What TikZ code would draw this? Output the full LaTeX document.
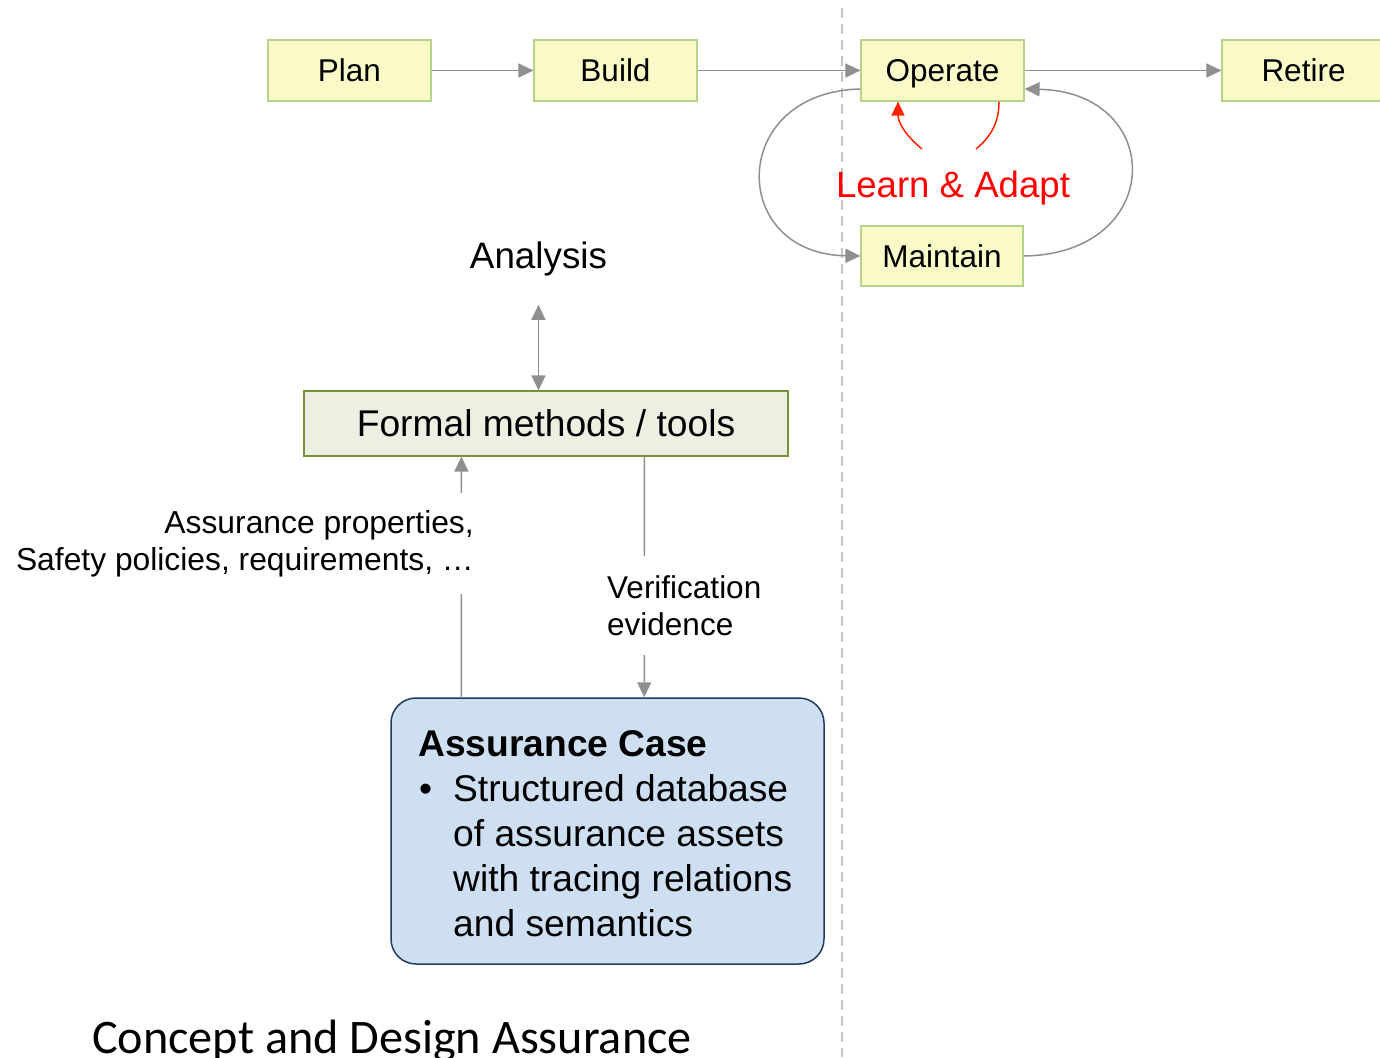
\documentclass[tikz,border=0pt]{standalone}
\usepackage{fontspec}
\setmainfont{Liberation Sans}
\newfontfamily\calib{Carlito}
\usetikzlibrary{arrows.meta,calc}
\definecolor{boxfill}{HTML}{FAFAC8}
\definecolor{boxline}{HTML}{B7D38A}
\definecolor{fmfill}{HTML}{ECEFE1}
\definecolor{fmline}{HTML}{76923C}
\definecolor{acfill}{HTML}{CFDFF2}
\definecolor{acline}{HTML}{1F3A5F}
\definecolor{conn}{HTML}{8F8F8F}
\definecolor{dashc}{HTML}{C4C4C4}
\definecolor{learnred}{HTML}{FF0000}
\definecolor{redarr}{HTML}{FF2200}
\tikzset{
  phase/.style={draw=boxline, fill=boxfill, line width=1.2pt, minimum width=163pt, minimum height=61pt, inner sep=0pt,
    font=\fontsize{31.5}{37}\selectfont, text height=22.6pt, text depth=0pt},
  tip/.style={-{Triangle[length=15pt,width=14pt]}},
  conarrow/.style={draw=conn, line width=1.5pt, tip},
  conline/.style={draw=conn, line width=1.5pt},
  redarrow/.style={draw=redarr, line width=1.5pt},
  lbl/.style={font=\fontsize{31.5}{37.5}\selectfont, inner xsep=2pt, fill=white},
}
\begin{document}
\begin{tikzpicture}[x=1pt,y=-1pt]
\useasboundingbox (0,0) rectangle (1380,1057);
% separator
\draw[dashc, line width=1.5pt, dash pattern=on 10pt off 6pt] (842,8) -- (842,1057);

% life-cycle boxes
\node[phase] (plan) at (349.5,70.5) {Plan};
\node[phase] (build) at (615.5,70.5) {Build};
\node[phase] (operate) at (942.5,70.5) {Operate};
\node[phase] (retire) at (1303.5,70.5) {Retire};
\node[phase, minimum width=162pt, minimum height=60pt] (maintain) at (942,256) {Maintain};

\draw[conarrow] (plan.east) -- (build.west);
\draw[conarrow] (build.east) -- (operate.west);
\draw[conarrow] (operate.east) -- (retire.west);

% maintenance loop
\draw[conline, tip] ([yshift=-18.5pt]operate.west) .. controls (728,92) and (728,254) .. (maintain.west);
\draw[conline, tip] (maintain.east) .. controls (1166,254) and (1166,92) .. ([yshift=-18.5pt]operate.east);

% learn & adapt
\node[font=\fontsize{36.6}{40}\selectfont, text=learnred, anchor=base, inner sep=0pt] (learn) at (953,197) {Learn \& Adapt};
\coordinate (ra) at (922,149);
\coordinate (rb) at (976,149);
\draw[redarrow, -{Triangle[length=14pt,width=13pt]}] (ra) .. controls (905,135) and (898,122) .. ([xshift=-44.5pt]operate.south);
\draw[redarrow] (rb) .. controls (993,135) and (999,120) .. ([xshift=56.5pt]operate.south);

% analysis and formal methods
\node[font=\fontsize{36.8}{40}\selectfont, anchor=base, inner sep=0pt] (ana) at (538.5,268) {Analysis};
\node[draw=fmline, fill=fmfill, line width=1.2pt, minimum width=484pt, minimum height=65pt, inner sep=0pt,
  font=\fontsize{37.2}{42}\selectfont, text height=26.6pt, text depth=0pt] (formal) at (546,423.5) {Formal methods / tools};
\draw[conline, {Triangle[length=15pt,width=14pt]}-{Triangle[length=15pt,width=14pt]}, shorten <=29pt]
  (ana.south) -- (ana.south |- formal.north);

% assurance case
\node[draw=acline, fill=acfill, line width=1.5pt, rounded corners=25pt, minimum width=433pt, minimum height=266pt, inner sep=0pt] (ac) at (607.5,831) {};
\node[anchor=north west, inner sep=0pt, align=left, font=\fontsize{37.2}{45}\selectfont] (actext) at (418,730.4)
  {\textbf{Assurance Case}\\
   \makebox[35pt][l]{\hspace*{1pt}•}Structured database\\
   \hspace*{35pt}of assurance assets\\
   \hspace*{35pt}with tracing relations\\
   \hspace*{35pt}and semantics};

% properties connector
\draw[conarrow] ([xshift=71pt]ac.north west) -- ([xshift=158pt]formal.south west);
\node[lbl, font=\fontsize{31.8}{37}\selectfont, anchor=north east, align=right, inner ysep=17pt] (props) at (476,493)
  {Assurance properties,\\ Safety policies, requirements, …};

% verification connector
\draw[conarrow] ([xshift=341pt]formal.south west) -- ([xshift=254pt]ac.north west);
\node[lbl, anchor=north west, align=left, inner ysep=19pt] (verif) at (605,556)
  {Verification\\ evidence};

% title
\node[anchor=base west, inner sep=0pt, font=\calib\fontsize{48.2}{54}\selectfont] (title) at (92,1053) {Concept and Design Assurance};
\end{tikzpicture}
\end{document}
